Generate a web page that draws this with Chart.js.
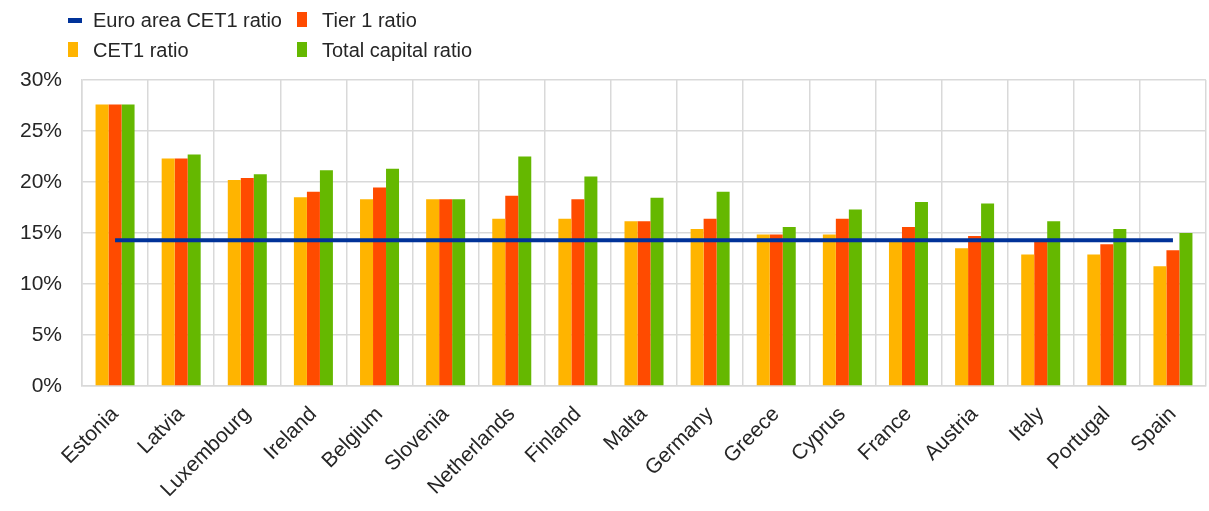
<!DOCTYPE html>
<html>
<head>
<meta charset="utf-8">
<script src="https://cdn.jsdelivr.net/npm/chart.js@4"></script>
<style>
  html, body { margin: 0; padding: 0; background: #fff; }
  #wrap { position: relative; width: 1209px; height: 511px; }
  #legend { position: absolute; left: 68px; top: 6px; font-family: "Liberation Sans", Arial, sans-serif; font-size: 20px; color: #262626; }
  .item { position: absolute; white-space: nowrap; height: 28px; line-height: 28px; }
  .mark { position: absolute; }
  .lbl { position: absolute; left: 25px; top: 0; }
</style>
</head>
<body>
<div id="wrap">
  <canvas id="chart" width="1209" height="511"></canvas>
  <div id="legend"></div>
</div>
<script>
const countries = ["Estonia", "Latvia", "Luxembourg", "Ireland", "Belgium", "Slovenia", "Netherlands", "Finland", "Malta", "Germany", "Greece", "Cyprus", "France", "Austria", "Italy", "Portugal", "Spain"];
const cet1 = [27.6, 22.3, 20.2, 18.5, 18.3, 18.3, 16.4, 16.4, 16.15, 15.4, 14.85, 14.85, 14.3, 13.5, 12.9, 12.9, 11.75];
const tier1 = [27.6, 22.3, 20.4, 19.05, 19.45, 18.3, 18.65, 18.3, 16.15, 16.4, 14.85, 16.4, 15.6, 14.7, 14.25, 13.9, 13.3];
const totalCapital = [27.6, 22.7, 20.75, 21.15, 21.3, 18.3, 22.5, 20.55, 18.45, 19.05, 15.6, 17.3, 18.05, 17.9, 16.15, 15.4, 15.0];
const euroAreaCet1 = [14.3, 14.3, 14.3, 14.3, 14.3, 14.3, 14.3, 14.3, 14.3, 14.3, 14.3, 14.3, 14.3, 14.3, 14.3, 14.3, 14.3];
const yTicks = [0, 5, 10, 15, 20, 25, 30];

const font = "'Liberation Sans', Arial, sans-serif";
const textColor = "#262626";
const gridColor = "#d9d9d9";

const ctx = document.getElementById("chart").getContext("2d");
const chart = new Chart(ctx, {
  type: "bar",
  data: {
    labels: countries,
    datasets: [
      { type: "line", label: "Euro area CET1 ratio", data: euroAreaCet1, borderColor: "#003299", backgroundColor: "#003299",
        borderWidth: 4, pointRadius: 0, order: 0 },
      { label: "CET1 ratio", data: cet1, backgroundColor: "#ffb400", order: 1 },
      { label: "Tier 1 ratio", data: tier1, backgroundColor: "#ff4b00", order: 1 },
      { label: "Total capital ratio", data: totalCapital, backgroundColor: "#65b800", order: 1 }
    ]
  },
  options: {
    responsive: false,
    animation: false,
    layout: { padding: { top: 80, right: 3, left: 0, bottom: 0 } },
    datasets: { bar: { categoryPercentage: 0.59, barPercentage: 1.0 } },
    plugins: { legend: { display: false }, tooltip: { enabled: false } },
    scales: {
      x: {
        grid: { color: gridColor, lineWidth: 1.5, drawTicks: false },
        border: { color: gridColor, width: 1.5 },
        ticks: { color: textColor, font: { family: font, size: 21 }, minRotation: 45, maxRotation: 45, padding: 16 },
        afterFit: s => { s.height = 125; }
      },
      y: {
        min: 0, max: 30,
        afterBuildTicks: s => { s.ticks = yTicks.map(v => ({ value: v })); },
        grid: { color: gridColor, lineWidth: 1.5, drawTicks: false },
        border: { color: gridColor, width: 1.5 },
        ticks: { color: textColor, font: { family: font, size: 21 }, padding: 20, callback: v => v + "%" },
        afterFit: s => { s.width = 82; }
      }
    }
  }
});

// two-column legend like the original
const legendOrder = ["Euro area CET1 ratio", "Tier 1 ratio", "CET1 ratio", "Total capital ratio"];
const legend = document.getElementById("legend");
legendOrder.forEach((name, i) => {
  const ds = chart.data.datasets.find(d => d.label === name);
  const item = document.createElement("div");
  item.className = "item";
  item.style.left = (i % 2 ? 229 : 0) + "px";
  item.style.top = (i < 2 ? 0 : 30) + "px";
  const mark = document.createElement("span");
  mark.className = "mark";
  if (ds.type === "line") {
    mark.style.cssText = "left:0;top:12px;width:14px;height:5px;background:" + ds.borderColor;
  } else {
    mark.style.cssText = "left:0;top:6px;width:10px;height:15px;background:" + ds.backgroundColor;
  }
  const lbl = document.createElement("span");
  lbl.className = "lbl";
  lbl.textContent = name;
  item.appendChild(mark);
  item.appendChild(lbl);
  legend.appendChild(item);
});
</script>
</body>
</html>
